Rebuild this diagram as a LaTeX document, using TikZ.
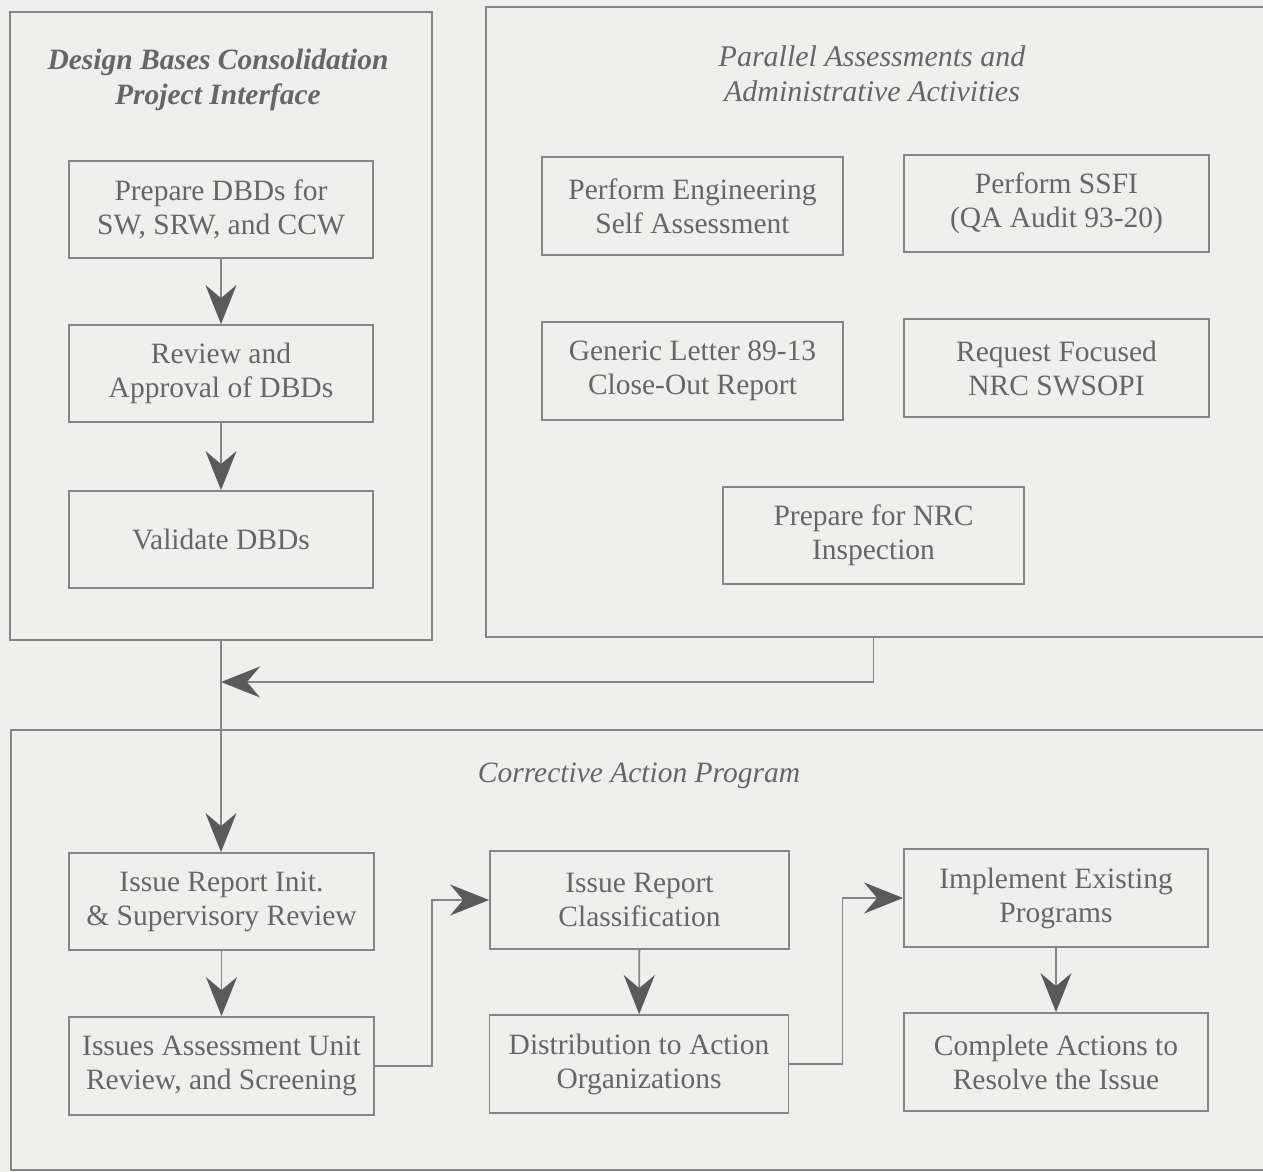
\documentclass[tikz,border=0pt]{standalone}
\usepackage{fontspec}
\setmainfont{Liberation Serif}
\usetikzlibrary{arrows.meta,calc}
\definecolor{paper}{HTML}{EFEFEE}
\definecolor{ink}{HTML}{666666}
\definecolor{rule}{HTML}{858585}
\definecolor{tip}{HTML}{5A5A5A}
\begin{document}
\begin{tikzpicture}[x=1pt,y=-1pt,
  frame/.style={draw=rule,line width=1.8pt,inner sep=0pt},
  stepbox/.style={frame,minimum width=304pt,minimum height=97pt,align=center,
    text=ink,font=\fontsize{29.5}{34}\selectfont},
  heading/.style={text=ink,align=center,font=\fontsize{30}{35}\selectfont\itshape},
  link/.style={draw=rule,line width=1.8pt},
  arr/.style={link,-{Stealth[length=39pt,width=31pt,inset=13pt,fill=tip,color=tip]}}]
% page
\fill[paper] (0,0) rectangle (1263,1172);
\useasboundingbox (0,0) rectangle (1263,1172);

% group frames
\node[frame,minimum width=422pt,minimum height=628pt] (left) at (221,326) {};
\node[frame,minimum width=790pt,minimum height=630pt] (right) at (881,322) {};
\node[frame,minimum width=1266pt,minimum height=440pt] (bottom) at (644,950) {};

% group headings
\node[heading,font=\fontsize{29.5}{35}\selectfont\bfseries\itshape] (lt) at (218,80) {Design Bases Consolidation\\Project Interface};
\node[heading] (rt) at (872,74) {Parallel Assessments and\\Administrative Activities};
\node[heading,font=\fontsize{29.5}{35}\selectfont\itshape] (bt) at (639,776) {Corrective Action Program};

% design bases column
\node[stepbox] (p1) at (221,209.5) {Prepare DBDs for\\SW, SRW, and CCW};
\node[stepbox] (p2) at (221,373.5) {Review and\\Approval of DBDs};
\node[stepbox] (p3) at (221,539.5) {Validate DBDs};

% parallel activities
\node[stepbox,minimum width=301pt,minimum height=98pt] (pea) at (692.5,206) {Perform Engineering\\Self Assessment};
\node[stepbox,minimum width=305pt] (ssfi) at (1056.5,203.5) {Perform SSFI\\(QA Audit 93-20)};
\node[stepbox,minimum width=301pt,minimum height=98pt] (gl) at (692.5,371) {Generic Letter 89-13\\Close-Out Report};
\node[stepbox,minimum width=305pt,minimum height=98pt] (req) at (1056.5,368) {Request Focused\\NRC SWSOPI};
\node[stepbox,minimum width=301pt] (pna) at (873.5,535.5) {Prepare for NRC\\Inspection};

% corrective action program
\node[stepbox,minimum width=305pt] (iri) at (221.5,901.5) {Issue Report Init.\\\& Supervisory Review};
\node[stepbox,minimum width=305pt,minimum height=98pt] (iau) at (221.5,1066) {Issues Assessment Unit\\Review, and Screening};
\node[stepbox,minimum width=299pt,minimum height=98pt] (irc) at (639.5,900) {Issue Report\\Classification};
\node[stepbox,minimum width=299pt,minimum height=98pt] (dist) at (639,1064) {Distribution to Action\\Organizations};
\node[stepbox,minimum width=304pt,minimum height=98pt] (impl) at (1056,898) {Implement Existing\\Programs};
\node[stepbox,minimum width=304pt,minimum height=98pt] (done) at (1056,1062) {Complete Actions to\\Resolve the Issue};

% connectors
\draw[arr] (p1) -- (p2);
\draw[arr] (p2) -- (p3);
\coordinate (join) at (left.south |- 0,682);
\draw[arr] (pna.south |- right.south) |- (join);
\draw[arr] (left.south) -- (iri.north -| left.south);
\draw[arr] (iri) -- (iau);
\draw[arr] (irc) -- (dist);
\draw[arr] (impl) -- (done);
\draw[arr] (iau.east) -- ++(57,0) |- (irc.west);
\draw[arr] (dist.east) -- ++(53,0) |- (impl.west);
\end{tikzpicture}
\end{document}
